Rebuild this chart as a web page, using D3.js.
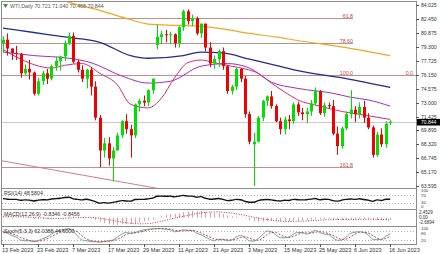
<!DOCTYPE html>
<html><head><meta charset="utf-8">
<script src="https://cdn.jsdelivr.net/npm/d3@7"></script>
<style>
html,body{margin:0;padding:0;background:#fff;}
svg{display:block;font-family:"Liberation Sans",Arial,sans-serif;}
</style></head><body>
<svg id="chart" width="440" height="254"></svg>
<script>
// trading days shown on the chart
var days = ("2023-02-13 2023-02-14 2023-02-15 2023-02-16 2023-02-17 2023-02-20 2023-02-21 2023-02-22 2023-02-23 2023-02-24 2023-02-27 2023-02-28 " +
  "2023-03-01 2023-03-02 2023-03-03 2023-03-06 2023-03-07 2023-03-08 2023-03-09 2023-03-10 2023-03-13 2023-03-14 2023-03-15 2023-03-16 2023-03-17 " +
  "2023-03-20 2023-03-21 2023-03-22 2023-03-23 2023-03-24 2023-03-27 2023-03-28 2023-03-29 2023-03-30 2023-03-31 " +
  "2023-04-03 2023-04-04 2023-04-05 2023-04-06 2023-04-10 2023-04-11 2023-04-12 2023-04-13 2023-04-14 2023-04-17 2023-04-18 2023-04-19 2023-04-20 2023-04-21 " +
  "2023-04-24 2023-04-25 2023-04-26 2023-04-27 2023-04-28 2023-05-01 2023-05-02 2023-05-03 2023-05-04 2023-05-05 2023-05-08 2023-05-09 2023-05-10 2023-05-11 2023-05-12 " +
  "2023-05-15 2023-05-16 2023-05-17 2023-05-18 2023-05-19 2023-05-22 2023-05-23 2023-05-24 2023-05-25 2023-05-26 2023-05-29 2023-05-30 2023-05-31 " +
  "2023-06-01 2023-06-02 2023-06-05 2023-06-06 2023-06-07 2023-06-08 2023-06-09 2023-06-12 2023-06-13 2023-06-14 2023-06-15 2023-06-16").split(" ");

// open, high, low, close
var ohlc = [
  [79.7,80.5,78.6,80.1],[80.1,80.8,78.3,79.1],[79.1,79.1,77.8,78.6],[78.6,79.4,77.8,78.5],[78.5,78.6,75.8,76.3],
  [76.3,77.3,76.1,76.8],[76.8,77.8,75.6,76.4],[76.4,76.5,73.8,74.0],[74.0,75.8,73.8,75.4],[75.4,76.6,75.0,76.3],
  [76.3,76.8,75.1,75.7],[75.7,77.3,75.5,77.1],[77.1,78.2,76.6,77.7],[77.7,78.3,76.6,78.2],[78.2,80.0,77.7,79.7],
  [79.7,80.9,79.5,80.5],[80.5,80.9,77.4,77.6],[77.6,77.8,76.4,76.7],[76.7,77.2,75.3,75.7],[75.7,76.8,74.6,76.7],
  [76.7,77.0,73.8,74.8],[74.8,75.4,71.0,71.3],[71.3,71.6,65.7,67.6],[67.6,69.0,66.8,68.4],[68.4,69.1,65.9,66.7],
  [66.7,68.0,64.1,67.6],[67.6,69.6,67.6,69.3],[69.3,71.0,69.0,70.9],[70.9,71.7,69.5,70.0],[70.0,70.5,66.8,69.3],
  [69.3,72.9,69.0,72.8],[72.8,73.4,72.0,73.2],[73.2,73.8,72.6,73.0],[73.0,74.5,72.6,74.4],[74.4,75.7,74.0,75.7],
  [79.5,81.8,79.0,80.4],[80.4,81.1,79.6,80.7],[80.7,81.2,79.8,80.6],[80.6,81.0,79.6,80.7],[80.7,80.8,79.2,79.7],
  [79.7,81.6,79.2,81.5],[81.5,83.5,81.1,83.3],[83.3,83.5,81.8,82.2],[82.2,82.9,81.6,82.5],[82.5,82.7,80.6,80.8],
  [80.8,81.9,80.3,81.9],[81.9,81.9,78.8,79.2],[79.2,79.8,77.0,77.4],[77.4,78.3,76.8,77.9],[77.9,79.0,77.0,78.8],
  [78.8,79.2,76.7,77.1],[77.1,77.2,74.0,74.3],[74.3,75.0,73.9,74.8],[74.8,76.9,74.4,76.8],[76.8,76.9,75.3,75.7],
  [75.7,76.0,71.3,71.7],[71.7,72.0,68.3,68.6],[68.3,69.6,63.6,68.6],[68.6,71.5,68.5,71.3],[71.3,73.3,70.9,73.2],
  [73.2,73.8,72.6,73.7],[73.7,74.3,72.3,72.6],[72.6,72.8,70.8,70.9],[70.9,71.3,69.4,70.0],[70.0,71.4,69.4,71.1],
  [71.1,71.6,70.0,70.9],[70.9,73.0,70.6,72.8],[72.8,73.1,71.5,71.9],[71.9,72.4,71.0,71.7],[71.7,72.4,70.7,72.0],
  [72.0,73.3,71.5,72.9],[72.9,74.7,72.7,74.3],[74.3,74.4,71.6,71.8],[71.8,73.0,71.4,72.7],[72.7,73.0,72.3,72.6],
  [72.6,73.3,69.3,69.5],[69.5,70.3,67.1,68.1],[68.1,70.3,67.8,70.1],[70.1,72.0,69.9,71.7],[71.7,74.4,71.2,72.2],
  [72.2,72.6,70.8,71.7],[71.7,73.0,71.2,72.5],[72.5,73.2,70.7,71.3],[71.3,71.8,70.0,70.2],[70.2,70.4,66.8,67.1],
  [67.1,69.7,66.9,69.4],[69.4,70.1,68.0,68.3],[68.3,70.9,67.9,70.6],[70.721,71.040,70.468,70.844]
];

// moving averages: [bar, value]
var ma200 = [[0,88.4],[7,86.4],[14,84.5],[22,83.4],[28,82.5],[33,81.85],[39,81.7],[45,81.6],[50,81.3],[56,80.8],[62,80.4],[67,80.0],[78,79.2],[88,78.3]];
var ma100 = [[0,81.4],[7,80.9],[14,80.4],[22,79.8],[29,78.3],[33,78.0],[41,78.3],[45,78.7],[50,78.6],[56,77.9],[62,77.2],[67,76.6],[78,75.7],[88,74.7]];
var ma50 = [[0,78.7],[7,78.3],[15,78.0],[20,77.5],[27,76.0],[33,75.2],[38,75.4],[45,77.1],[51,77.4],[56,76.9],[61,75.3],[67,74.6],[75,74.05],[79,73.6],[83,73.3],[88,72.6]];
var ma20 = [[0,79.0],[4,77.9],[11,76.9],[14,77.2],[18,77.4],[22,76.3],[26,75.0],[29,72.8],[33,72.4],[36,73.5],[39,75.8],[42,77.5],[45,77.8],[48,77.5],[52,77.1],[55,76.8],[58,76.3],[61,75.2],[64,74.2],[67,73.3],[72,72.6],[77,72.0],[82,71.6],[88,71.1]];

// fibonacci levels and trend line
var fibLevels = [["61.8",82.54],["78.60",79.75],["100.0",76.13],["161.8",65.74]];
var hLine0 = 76.13;
var trendLine = [[-1,66.5],[40,62.9]];

// right axis labels
var priceTicks = ["84.025","82.450","80.875","79.300","77.725","76.150","74.575","73.000","71.425","69.895","68.320","66.745","65.170","63.595"];
var dateTicks = ["2023-02-13","2023-02-23","2023-03-07","2023-03-17","2023-03-29","2023-04-11","2023-04-21","2023-05-03","2023-05-15","2023-05-25","2023-06-06","2023-06-16"];

var rsi = [52,49,48,48,43,45,44,39,44,46,45,50,52,54,58,60,51,48,45,49,43,35,27,30,27,31,36,41,39,38,47,48,48,51,55,65,66,65,66,62,
  66,70,66,66,60,63,54,49,50,53,48,41,43,48,46,37,32,32,41,46,47,45,41,39,43,42,48,46,45,46,49,53,46,49,48,41,38,44,48,50,
  48,51,47,44,37,45,42,49,48.58];

var macd = [0.3,0.3,0.25,0.2,0.0,-0.1,-0.2,-0.45,-0.5,-0.45,-0.45,-0.3,-0.15,0.0,0.25,0.5,0.45,0.3,0.1,0.05,
  -0.25,-0.8,-1.5,-1.95,-2.4,-2.6,-2.69,-2.45,-2.35,-2.3,-1.95,-1.6,-1.35,-1.05,-0.65,0.05,0.6,1.0,1.3,1.45,
  1.7,2.0,2.2,2.4,2.4,2.45,2.25,1.95,1.7,1.55,1.3,0.85,0.5,0.4,0.2,-0.3,-0.95,-1.4,-1.5,-1.4,
  -1.25,-1.2,-1.3,-1.4,-1.35,-1.3,-1.1,-1.05,-1.0,-0.95,-0.8,-0.55,-0.55,-0.5,-0.45,-0.65,-0.9,-0.9,-0.75,-0.6,
  -0.5,-0.4,-0.4,-0.45,-0.75,-0.8,-0.95,-0.85,-0.83];
var macdSignal = [0.5,0.45,0.4,0.35,0.3,0.25,0.18,0.1,0.0,-0.1,-0.2,-0.25,-0.27,-0.27,-0.23,-0.15,-0.05,0.0,0.05,0.1,
  0.1,0.0,-0.2,-0.45,-0.75,-1.05,-1.35,-1.6,-1.85,-2.05,-2.2,-2.25,-2.25,-2.15,-1.95,-1.65,-1.3,-0.95,-0.55,-0.2,
  0.15,0.5,0.85,1.2,1.5,1.75,1.95,2.05,2.1,2.1,2.0,1.85,1.65,1.4,1.15,0.85,0.5,0.15,-0.15,-0.45,
  -0.7,-0.9,-1.1,-1.25,-1.35,-1.38,-1.35,-1.3,-1.25,-1.2,-1.12,-1.02,-0.92,-0.82,-0.75,-0.7,-0.7,-0.7,-0.68,-0.68,
  -0.66,-0.64,-0.6,-0.57,-0.58,-0.6,-0.66,-0.72,-0.85];
var macdLabels = ["2.4529","0.00","-2.6894"];

var stochK = [70,65,50,40,20,15,15,8,15,30,40,60,75,85,92,95,75,45,20,15,10,8,6,12,15,20,40,60,70,65,
  70,80,88,92,95,97,95,92,88,75,80,88,85,82,65,55,40,25,15,25,25,15,20,40,50,35,15,12,30,55,
  80,75,55,35,35,40,60,70,70,60,70,85,70,60,55,35,18,20,40,65,72,75,70,55,25,22,25,45,62];
var stochD = [75,70,62,52,37,25,17,13,13,18,28,43,58,73,84,91,87,72,47,27,15,11,8,9,11,16,25,40,57,65,
  68,72,79,87,92,95,96,95,92,85,81,81,84,85,77,67,53,40,27,22,22,22,20,25,37,42,33,21,19,32,
  55,70,70,55,42,37,45,57,67,67,67,72,75,72,62,50,36,24,26,42,59,71,72,67,50,34,24,31,44.6];

var svg = d3.select('#chart');
var W = 440, H = 254, L = 2, R = 416;
var panels = {
  main: [2, 188],
  rsi: [189, 209],
  macd: [210, 226],
  stoch: [227, 244]
};

var x = d3.scaleLinear().domain([0, days.length - 1]).range([3, 390.2]);
var y = d3.scaleLinear().domain([63.595, 84.025]).range([186, 4.8]);
var cx = function(i) { return Math.round(x(i)); };

svg.append('rect').attr('width', W).attr('height', H).attr('fill', '#fff');

var defs = svg.append('defs');
defs.append('clipPath').attr('id', 'clipMain').append('rect')
  .attr('x', L).attr('y', panels.main[0]).attr('width', R - L).attr('height', panels.main[1] - panels.main[0]);

// panel frames
Object.keys(panels).forEach(function(k) {
  var p = panels[k];
  svg.append('rect').attr('x', L - 0.5).attr('y', p[0] - 0.5).attr('width', R - L + 1).attr('height', p[1] - p[0] + 1)
    .attr('fill', 'none').attr('stroke', '#8c8c8c').attr('stroke-width', 1);
});

var main = svg.append('g').attr('clip-path', 'url(#clipMain)');

// bid line
var last = ohlc[ohlc.length - 1][3];
main.append('line').attr('x1', L).attr('x2', R).attr('y1', Math.round(y(last)) + 0.5).attr('y2', Math.round(y(last)) + 0.5)
  .attr('stroke', '#c8c8c8').attr('stroke-width', 1);

// fibonacci levels
var fibColor = '#c98c8c';
fibLevels.forEach(function(f) {
  var yy = Math.round(y(f[1])) + 0.5;
  main.append('line').attr('x1', L).attr('x2', 353).attr('y1', yy).attr('y2', yy).attr('stroke', fibColor).attr('stroke-width', 1);
  main.append('text').attr('x', 353).attr('y', yy - 1).attr('text-anchor', 'end')
    .attr('font-size', 5.3).attr('fill', '#c04848').text(f[0]);
});
var y0line = Math.round(y(hLine0)) + 0.5;
main.append('line').attr('x1', L).attr('x2', R).attr('y1', y0line).attr('y2', y0line).attr('stroke', fibColor).attr('stroke-width', 1);
main.append('text').attr('x', 413).attr('y', y0line - 1).attr('text-anchor', 'end')
  .attr('font-size', 5.3).attr('fill', '#c04848').text('0.0');

// trend line
main.append('line')
  .attr('x1', x(trendLine[0][0])).attr('y1', y(trendLine[0][1]))
  .attr('x2', x(trendLine[1][0])).attr('y2', y(trendLine[1][1]))
  .attr('stroke', '#d97a8a').attr('stroke-width', 1);

// moving averages
var maLine = d3.line().x(function(d) { return x(d[0]); }).y(function(d) { return y(d[1]); }).curve(d3.curveMonotoneX);
[[ma200, '#f5a623', 1.2], [ma100, '#27279c', 1.3], [ma50, '#9b30c8', 1], [ma20, '#e0287c', 1]].forEach(function(m) {
  main.append('path').attr('d', maLine(m[0])).attr('fill', 'none').attr('stroke', m[1]).attr('stroke-width', m[2]);
});

// candles
var bull = '#00e000', bear = '#f00000';
var candles = main.selectAll('g.candle').data(ohlc).enter().append('g');
candles.append('line')
  .attr('x1', function(d, i) { return cx(i) + 0.5; }).attr('x2', function(d, i) { return cx(i) + 0.5; })
  .attr('y1', function(d) { return y(d[1]); }).attr('y2', function(d) { return y(d[2]); })
  .attr('stroke', function(d) { return d[3] >= d[0] ? bull : bear; }).attr('stroke-width', 1);
candles.append('rect')
  .attr('x', function(d, i) { return cx(i) - 1; }).attr('width', 3)
  .attr('y', function(d) { return y(Math.max(d[0], d[3])); })
  .attr('height', function(d) { return Math.max(1, Math.abs(y(d[0]) - y(d[3]))); })
  .attr('fill', function(d) { return d[3] >= d[0] ? bull : bear; });

// right price axis
var axisG = svg.append('g');
priceTicks.forEach(function(t) {
  var yy = Math.round(y(+t)) + 0.5;
  axisG.append('line').attr('x1', R).attr('x2', R + 3).attr('y1', yy).attr('y2', yy).attr('stroke', '#555');
  axisG.append('text').attr('x', 421).attr('y', yy + 1.6).attr('font-size', 5.1).attr('fill', '#333').text(t);
});
axisG.append('rect').attr('x', 417).attr('y', y(last) - 2.8).attr('width', 23).attr('height', 6.6).attr('fill', '#000');
axisG.append('text').attr('x', 421).attr('y', y(last) + 2.4).attr('font-size', 5).attr('fill', '#fff').text(d3.format('.3f')(last));

// header
svg.append('path').attr('d', 'M3,4 L8,4 L5.5,8 Z').attr('fill', '#3a9a3a');
svg.append('text').attr('x', 10).attr('y', 8).attr('font-size', 5.3).attr('fill', '#555')
  .text('WTI,Daily  ' + ohlc[ohlc.length - 1].map(function(v) { return d3.format('.3f')(v); }).join(' '));

// RSI panel
var yR = d3.scaleLinear().domain([0, 100]).range([panels.rsi[1] - 1, panels.rsi[0] + 1]);
[70, 30].forEach(function(v) {
  svg.append('line').attr('x1', L).attr('x2', R).attr('y1', Math.round(yR(v)) + 0.5).attr('y2', Math.round(yR(v)) + 0.5)
    .attr('stroke', '#b0b0b0').attr('stroke-dasharray', '1,2');
});
svg.append('path').attr('d', d3.line().x(function(d, i) { return x(i); }).y(function(d) { return yR(d); }).curve(d3.curveMonotoneX)(rsi))
  .attr('fill', 'none').attr('stroke', '#111').attr('stroke-width', 1.4);
svg.append('text').attr('x', 4).attr('y', panels.rsi[0] + 6).attr('font-size', 5.3).attr('fill', '#333').text('RSI(14) ' + d3.format('.4f')(48.5804));
[['100', 192.3], ['70', 196.6], ['30', 203.6], ['0', 208]].forEach(function(t) {
  svg.append('text').attr('x', 421).attr('y', t[1]).attr('font-size', 4.3).attr('fill', '#333').text(t[0]);
});

// MACD panel
var yM = d3.scaleLinear().domain([-2.6894, 2.4529]).range([panels.macd[1] - 1, panels.macd[0] + 1]);
svg.selectAll('line.hist').data(macd).enter().append('line')
  .attr('x1', function(d, i) { return cx(i) + 0.5; }).attr('x2', function(d, i) { return cx(i) + 0.5; })
  .attr('y1', yM(0)).attr('y2', function(d) { return yM(d); })
  .attr('stroke', '#e0a0a8').attr('stroke-width', 1);
svg.append('path').attr('d', d3.line().x(function(d, i) { return x(i); }).y(function(d) { return yM(d); })(macdSignal))
  .attr('fill', 'none').attr('stroke', '#e03030').attr('stroke-width', 1).attr('stroke-dasharray', '1,1.5');
svg.append('text').attr('x', 4).attr('y', panels.macd[0] + 6).attr('font-size', 5.3).attr('fill', '#333').text('MACD(12,26,9) -0.8346 -0.8456');
[[macdLabels[0], 214.2], [macdLabels[1], 219.3], [macdLabels[2], 224.4]].forEach(function(t) {
  svg.append('text').attr('x', 419).attr('y', t[1]).attr('font-size', 4.5).attr('fill', '#333').text(t[0]);
});

// Stochastic panel
var yS = d3.scaleLinear().domain([0, 100]).range([panels.stoch[1] - 1, panels.stoch[0] + 1]);
[80, 20].forEach(function(v) {
  svg.append('line').attr('x1', L).attr('x2', R).attr('y1', Math.round(yS(v)) + 0.5).attr('y2', Math.round(yS(v)) + 0.5)
    .attr('stroke', '#b0b0b0').attr('stroke-dasharray', '1,2');
});
svg.append('path').attr('d', d3.line().x(function(d, i) { return x(i); }).y(function(d) { return yS(d); }).curve(d3.curveMonotoneX)(stochK))
  .attr('fill', 'none').attr('stroke', '#5fae9a').attr('stroke-width', 1);
svg.append('path').attr('d', d3.line().x(function(d, i) { return x(i); }).y(function(d) { return yS(d); }).curve(d3.curveMonotoneX)(stochD))
  .attr('fill', 'none').attr('stroke', '#e04040').attr('stroke-width', 1).attr('stroke-dasharray', '2,1.5');
svg.append('text').attr('x', 4).attr('y', panels.stoch[0] + 6).attr('font-size', 5.3).attr('fill', '#333').text('Stoch(5,3,3) 62.0388 44.6000');
[['100', 230.3], ['80', 234.5], ['20', 242.3]].forEach(function(t) {
  svg.append('text').attr('x', 421).attr('y', t[1]).attr('font-size', 4.3).attr('fill', '#333').text(t[0]);
});

// date axis
var parse = d3.timeParse('%Y-%m-%d'), fmt = d3.timeFormat('%-d %b %Y');
dateTicks.forEach(function(d) {
  var i = days.indexOf(d);
  svg.append('line').attr('x1', cx(i) + 0.5).attr('x2', cx(i) + 0.5).attr('y1', panels.stoch[1]).attr('y2', panels.stoch[1] + 3).attr('stroke', '#555');
  svg.append('text').attr('x', cx(i) - 1).attr('y', 252).attr('font-size', 5.6).attr('fill', '#333').text(fmt(parse(d)));
});
</script></body></html>
